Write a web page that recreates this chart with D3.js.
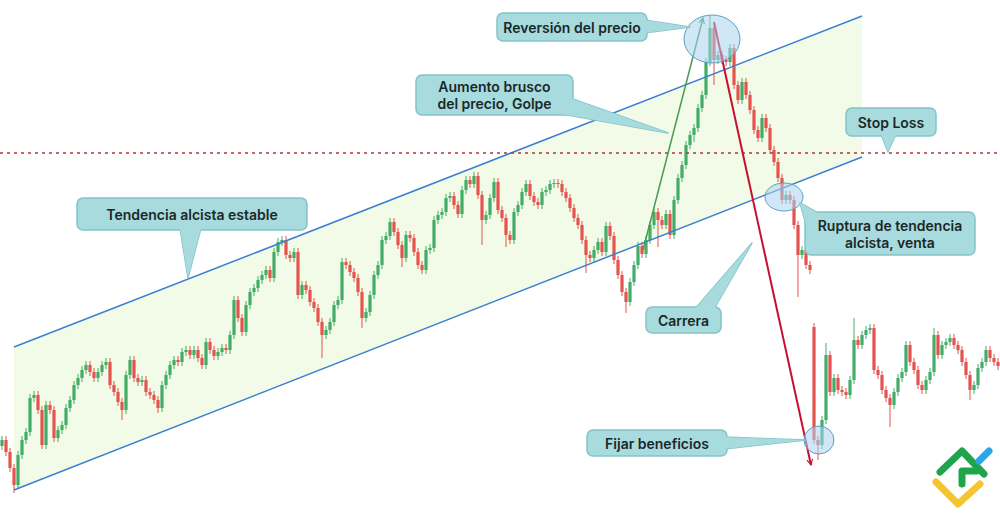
<!DOCTYPE html>
<html><head><meta charset="utf-8">
<script src="https://cdn.jsdelivr.net/npm/d3@7"></script>
<style>html,body{margin:0;padding:0;background:#fff;} svg{display:block;}</style>
</head><body>
<svg id="chart" width="1000" height="524"></svg>
<script>
// ---- DATA (price units) ----
const closes = [
 84,72,56,39,69,84,92,126,129,114,79,119,114,86,94,99,116,124,139,146,
 154,159,152,146,152,159,162,139,132,122,114,149,164,146,142,144,132,129,124,116,
 139,149,159,164,162,172,174,169,174,166,159,182,174,168,172,176,174,189,224,206,
 192,219,232,236,244,249,254,246,272,282,284,269,266,272,229,239,234,222,216,202,
 189,194,202,219,224,262,259,252,246,232,206,212,229,249,259,284,288,302,292,279,
 266,289,286,272,259,254,274,276,304,309,312,326,328,319,310,334,344,340,348,329,
 304,309,326,342,314,306,289,284,312,319,332,340,328,322,319,332,334,340,341,340,
 332,326,316,306,299,284,269,266,274,282,272,298,288,264,249,232,222,242,259,278,
 270,284,299,312,304,299,310,289,324,346,359,379,389,396,416,429,462,496,464,469,
 464,462,476,439,424,442,429,414,394,386,406,396,374,362,346,324,329,324,299,269,
 274,259,254,84,79,104,169,132,146,134,132,129,144,184,179,189,194,196,154,149,
 134,126,119,132,146,152,179,162,154,139,134,144,152,189,169,179,182,186,179,174,
 162,149,134,139,156,162,174,166,162,158
];
const openOverrides = [[0, 78], [203, 197]];
const spikes = [
 [3,'low',31],[30,'low',104],[39,'low',111],[80,'low',166],[90,'low',196],
 [100,'low',257],[120,'low',279],[126,'low',277],[146,'low',251],[156,'low',211],
 [164,'low',277],[173,'low',382],[177,'high',509],[178,'low',439],[199,'low',227],
 [204,'low',64],[206,'high',181],[213,'high',206],[222,'low',97],[233,'high',196],[242,'low',124]
];
const channelIdx = [3, 215];
const upperChannel = [177, 508];
const lowerChannel = [34, 367];
const stopLoss = 371;
const riseArrow = [[160.25, 274], [175.25, 506]];
const fallArrow = [[178, 502], [202.25, 59]];
const rings = [[177.5, 485, 28, 24], [195.5, 327, 19, 14], [204.25, 84, 15, 14]];

// ---- SCALES ----
const W = 1000, H = 524;
const x = d3.scaleLinear().domain([0, closes.length - 1]).range([2, 998]);
const y = d3.scaleLinear().domain([0, 524]).range([524, 0]);
const svg = d3.select('#chart');

const defs = svg.append('defs');
function marker(id, color) {
  defs.append('marker').attr('id', id).attr('viewBox', '0 0 10 10')
    .attr('refX', 9).attr('refY', 5).attr('markerWidth', 7).attr('markerHeight', 7)
    .attr('orient', 'auto').attr('markerUnits', 'userSpaceOnUse')
    .append('path').attr('d', 'M1,1 L9,5 L1,9').attr('fill', 'none')
    .attr('stroke', color).attr('stroke-width', 1.6);
}
marker('mg', '#4c9a52');
marker('mr', '#c8102e');

// channel fill
const poly = [
  [x(channelIdx[0]), y(upperChannel[0])], [x(channelIdx[1]), y(upperChannel[1])],
  [x(channelIdx[1]), y(lowerChannel[1])], [x(channelIdx[0]), y(lowerChannel[0])]
];
svg.append('polygon').attr('points', poly.map(p => p.join(',')).join(' ')).attr('fill', '#f1fbe7');

// candles
const oo = new Map(openOverrides);
const sp = {};
spikes.forEach(([i, t, v]) => { sp[i] = sp[i] || {}; sp[i][t] = v; });
const wick = 4;
const candles = closes.map((c, i) => {
  const o = oo.has(i) ? oo.get(i) : closes[i - 1];
  let hi = Math.max(o, c) + wick, lo = Math.min(o, c) - wick;
  if (sp[i] && sp[i].high !== undefined) hi = sp[i].high;
  if (sp[i] && sp[i].low !== undefined) lo = sp[i].low;
  return { i, o, c, hi, lo };
});
const up = '#43ad67', dn = '#e5534f';
const g = svg.append('g');
g.selectAll('line.w').data(candles).join('line')
  .attr('x1', d => x(d.i)).attr('x2', d => x(d.i))
  .attr('y1', d => y(d.hi)).attr('y2', d => y(d.lo))
  .attr('stroke', d => d.c >= d.o ? up : dn).attr('stroke-width', 1);
g.selectAll('rect').data(candles).join('rect')
  .attr('x', d => x(d.i) - 1.6).attr('width', 3.2)
  .attr('y', d => y(Math.max(d.o, d.c)))
  .attr('height', d => Math.max(1, Math.abs(y(d.o) - y(d.c))))
  .attr('fill', d => d.c >= d.o ? up : dn);

// channel lines
[upperChannel, lowerChannel].forEach(ch => {
  svg.append('line').attr('x1', x(channelIdx[0])).attr('y1', y(ch[0]))
    .attr('x2', x(channelIdx[1])).attr('y2', y(ch[1]))
    .attr('stroke', '#3c7fd0').attr('stroke-width', 1.5);
});

// stop loss dashed
svg.append('line').attr('x1', 0).attr('x2', W).attr('y1', y(stopLoss)).attr('y2', y(stopLoss))
  .attr('stroke', '#b8323e').attr('stroke-width', 1.5).attr('stroke-dasharray', '3,4');

// arrows
svg.append('line').attr('x1', x(riseArrow[0][0])).attr('y1', y(riseArrow[0][1]))
  .attr('x2', x(riseArrow[1][0])).attr('y2', y(riseArrow[1][1]))
  .attr('stroke', '#4c9a52').attr('stroke-width', 1.5).attr('marker-end', 'url(#mg)');
svg.append('line').attr('x1', x(fallArrow[0][0])).attr('y1', y(fallArrow[0][1]))
  .attr('x2', x(fallArrow[1][0])).attr('y2', y(fallArrow[1][1]))
  .attr('stroke', '#c8102e').attr('stroke-width', 2).attr('marker-end', 'url(#mr)');

// rings
svg.selectAll('ellipse').data(rings).join('ellipse')
  .attr('cx', d => x(d[0])).attr('cy', d => y(d[1]))
  .attr('rx', d => d[2]).attr('ry', d => d[3])
  .attr('fill', 'rgba(170,212,240,0.55)').attr('stroke', '#5b9fc0').attr('stroke-width', 1);

// callouts
const callouts = [
  { x: 497, y: 13, w: 150, h: 28, lines: ['Reversión del precio'], ptr: [[644, 20], [690, 27], [644, 33]] },
  { x: 416, y: 75, w: 157, h: 40, lines: ['Aumento brusco', 'del precio, Golpe'], ptr: [[570, 98], [668, 133], [556, 113]] },
  { x: 846, y: 108, w: 90, h: 28, lines: ['Stop Loss'], ptr: [[881, 134], [888, 152], [896, 134]] },
  { x: 77, y: 198, w: 230, h: 32, lines: ['Tendencia alcista estable'], ptr: [[180, 228], [188, 278], [201, 228]] },
  { x: 805, y: 212, w: 170, h: 43, lines: ['Ruptura de tendencia', 'alcista, venta'], ptr: [[807, 228], [800, 203], [820, 214]] },
  { x: 646, y: 307, w: 75, h: 26, lines: ['Carrera'], ptr: [[695, 309], [752, 243], [714, 309]] },
  { x: 587, y: 430, w: 140, h: 26, lines: ['Fijar beneficios'], ptr: [[724, 437], [806, 440], [724, 449]] }
];
const fillC = '#a8dbde', strokeC = '#83c3c7';
callouts.forEach(c => {
  const cg = svg.append('g');
  const pts = c.ptr.map(p => p.join(',')).join(' ');
  cg.append('polygon').attr('points', pts).attr('fill', fillC).attr('stroke', strokeC).attr('stroke-width', 1.5).attr('stroke-linejoin', 'round');
  cg.append('rect').attr('x', c.x).attr('y', c.y).attr('width', c.w).attr('height', c.h)
    .attr('rx', 6).attr('fill', fillC).attr('stroke', strokeC).attr('stroke-width', 1.5);
  cg.append('polygon').attr('points', pts).attr('fill', fillC);
  const lh = 17;
  const cy0 = c.y + c.h / 2 - (c.lines.length - 1) * lh / 2;
  c.lines.forEach((t, k) => {
    cg.append('text').attr('x', c.x + c.w / 2).attr('y', cy0 + k * lh)
      .attr('text-anchor', 'middle').attr('dominant-baseline', 'central')
      .attr('font-family', 'Inter, "Noto Sans", sans-serif').attr('font-weight', 600)
      .attr('font-size', 14).attr('fill', '#1b2828').text(t);
  });
});

// logo
const lg = svg.append('g').attr('fill', 'none').attr('stroke-linecap', 'round').attr('stroke-linejoin', 'round').attr('stroke-width', 7);
lg.append('path').attr('d', 'M936,482 L958,504 L980,484').attr('stroke', '#f5c431');
lg.append('path').attr('d', 'M940,472 L962,451 L984,474').attr('stroke', '#1ea54c');
lg.append('path').attr('d', 'M962,484 L962,471 L977,471').attr('stroke', '#1ea54c');
lg.append('path').attr('d', 'M979,461 L989,451').attr('stroke', '#2aa6e6');
</script>
</body></html>
